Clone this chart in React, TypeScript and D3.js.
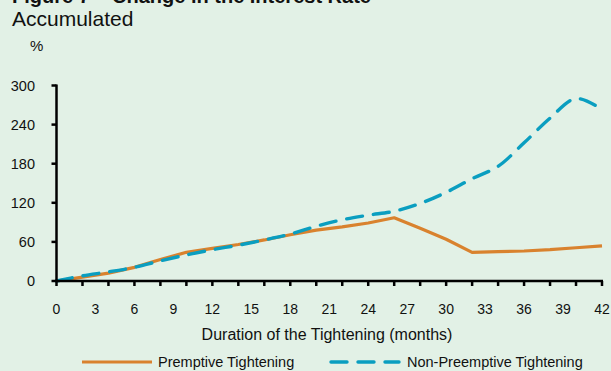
import React from "react";
import * as d3 from "d3";

// Months since the start of the tightening cycle (sampled every 2 months)
const months = [0, 2, 4, 6, 8, 10, 12, 14, 16, 18, 20, 22, 24, 26, 28, 30, 32, 34, 36, 38, 40, 42];
// Accumulated change in the policy rate, in %
const preemptive = [0, 6, 12, 21, 33, 44, 50, 56, 63, 71, 78, 83, 89, 97, 81, 64, 44, 45, 46, 48, 51, 54];
const nonPreemptive = [0, 8, 14, 21, 31, 40, 48, 55, 63, 72, 84, 94, 101, 107, 119, 136, 157, 176, 212, 250, 280, 263];

const xTickLabels = [0, 3, 6, 9, 12, 15, 18, 21, 24, 27, 30, 33, 36, 39, 42];
const xTickMarks = months;
const yTickValues = [0, 60, 120, 180, 240, 300];

const seriesNames = ["Premptive Tightening", "Non-Preemptive Tightening"];

const W = 611;
const H = 371;
const BG = "#e2f1e6";
const ORANGE = "#d9822e";
const BLUE = "#0a9ec0";
const FONT = "'Liberation Sans', Arial, Helvetica, sans-serif";
const DASH = "16 11";

export default function App() {
  const x = d3.scaleLinear().domain([0, 42]).range([56.5, 602]);
  const y = d3.scaleLinear().domain([0, 300]).range([281, 85.5]);

  const linePre = d3
    .line<number>()
    .x((_, i) => x(months[i]))
    .y((d) => y(d));
  const lineNon = d3
    .line<number>()
    .x((_, i) => x(months[i]))
    .y((d) => y(d))
    .curve(d3.curveCatmullRom.alpha(0.5));

  const x0 = x(0);
  const x1 = x(42);
  const yBase = y(0);

  return (
    <svg
      width={W}
      height={H}
      viewBox={`0 0 ${W} ${H}`}
      style={{ position: "fixed", left: 0, top: 0, display: "block" }}
      fontFamily={FONT}
    >
      <rect x={0} y={0} width={W} height={H} fill={BG} />

      {/* Heading */}
      <text x={12} y={3} fontSize={20} fontWeight="bold" fill="#111">
        Figure 7 – Change in the Interest Rate
      </text>
      <text x={12} y={26} fontSize={21} fill="#111">
        Accumulated
      </text>
      <text x={30} y={51} fontSize={15} fill="#111">
        %
      </text>

      {/* Series */}
      <path d={linePre(preemptive) || ""} fill="none" stroke={ORANGE} strokeWidth={3.2} strokeLinejoin="round" />
      <path
        d={lineNon(nonPreemptive) || ""}
        fill="none"
        stroke={BLUE}
        strokeWidth={3.4}
        strokeDasharray={DASH}
        strokeLinecap="round"
      />

      {/* Y axis */}
      <line x1={x0} x2={x0} y1={y(300) - 1} y2={yBase} stroke="#000" strokeWidth={2.5} />
      {yTickValues.map((v) => (
        <g key={v}>
          <line x1={x0 - 5} x2={x0} y1={y(v)} y2={y(v)} stroke="#000" strokeWidth={2.5} />
          <text x={35} y={y(v) + 5} fontSize={14.5} textAnchor="end" fill="#111">
            {v}
          </text>
        </g>
      ))}

      {/* X axis */}
      <line x1={x0 - 1} x2={x1 + 1} y1={yBase} y2={yBase} stroke="#000" strokeWidth={2.5} />
      {xTickMarks.map((m) => (
        <line key={m} x1={x(m)} x2={x(m)} y1={yBase} y2={yBase + 5} stroke="#000" strokeWidth={2.5} />
      ))}
      {xTickLabels.map((m) => (
        <text key={m} x={x(m)} y={314} fontSize={14} textAnchor="middle" fill="#111">
          {m}
        </text>
      ))}
      <text x={327} y={340} fontSize={16} textAnchor="middle" fill="#111">
        Duration of the Tightening (months)
      </text>

      {/* Legend */}
      <line x1={82} x2={152} y1={362} y2={362} stroke={ORANGE} strokeWidth={3.2} />
      <text x={158} y={367} fontSize={14.5} fill="#111">
        {seriesNames[0]}
      </text>
      <line
        x1={331}
        x2={399}
        y1={362}
        y2={362}
        stroke={BLUE}
        strokeWidth={3.4}
        strokeDasharray={DASH}
        strokeLinecap="round"
      />
      <text x={407} y={367} fontSize={14.5} fill="#111">
        {seriesNames[1]}
      </text>
    </svg>
  );
}
